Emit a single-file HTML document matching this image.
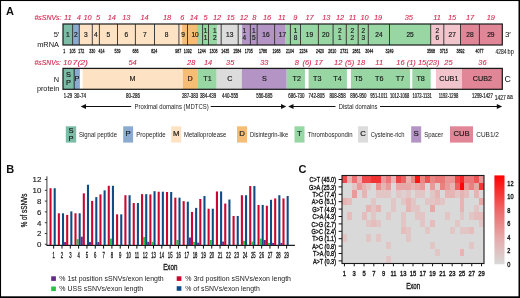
<!DOCTYPE html>
<html><head><meta charset="utf-8"><style>
html,body{margin:0;padding:0;background:#fff;}
svg{display:block;font-family:"Liberation Sans", sans-serif;will-change:transform;}
</style></head><body>
<svg width="520" height="298" viewBox="0 0 520 298">
<rect x="0" y="0" width="520" height="298" fill="#fff"/>
<text x="6.00" y="14.80" font-size="11" text-anchor="start" fill="#111" font-weight="bold">A</text>
<text x="34.50" y="20.10" font-size="7" text-anchor="start" fill="#d42a50" stroke="#d42a50" stroke-width="0.12" font-style="italic" textLength="27.00" lengthAdjust="spacingAndGlyphs">#sSNVs:</text>
<text x="67.80" y="20.40" font-size="7.4" text-anchor="middle" fill="#d42a50" stroke="#d42a50" stroke-width="0.12" font-style="italic">11</text>
<text x="78.75" y="20.40" font-size="7.4" text-anchor="middle" fill="#d42a50" stroke="#d42a50" stroke-width="0.12" font-style="italic">4</text>
<text x="87.50" y="20.40" font-size="7.4" text-anchor="middle" fill="#d42a50" stroke="#d42a50" stroke-width="0.12" font-style="italic">10</text>
<text x="98.00" y="20.40" font-size="7.4" text-anchor="middle" fill="#d42a50" stroke="#d42a50" stroke-width="0.12" font-style="italic">5</text>
<text x="111.75" y="20.40" font-size="7.4" text-anchor="middle" fill="#d42a50" stroke="#d42a50" stroke-width="0.12" font-style="italic">14</text>
<text x="126.25" y="20.40" font-size="7.4" text-anchor="middle" fill="#d42a50" stroke="#d42a50" stroke-width="0.12" font-style="italic">13</text>
<text x="144.50" y="20.40" font-size="7.4" text-anchor="middle" fill="#d42a50" stroke="#d42a50" stroke-width="0.12" font-style="italic">14</text>
<text x="167.00" y="20.40" font-size="7.4" text-anchor="middle" fill="#d42a50" stroke="#d42a50" stroke-width="0.12" font-style="italic">18</text>
<text x="182.30" y="20.40" font-size="7.4" text-anchor="middle" fill="#d42a50" stroke="#d42a50" stroke-width="0.12" font-style="italic">6</text>
<text x="193.75" y="20.40" font-size="7.4" text-anchor="middle" fill="#d42a50" stroke="#d42a50" stroke-width="0.12" font-style="italic">14</text>
<text x="205.50" y="20.40" font-size="7.4" text-anchor="middle" fill="#d42a50" stroke="#d42a50" stroke-width="0.12" font-style="italic">5</text>
<text x="217.00" y="20.40" font-size="7.4" text-anchor="middle" fill="#d42a50" stroke="#d42a50" stroke-width="0.12" font-style="italic">12</text>
<text x="230.50" y="20.40" font-size="7.4" text-anchor="middle" fill="#d42a50" stroke="#d42a50" stroke-width="0.12" font-style="italic">15</text>
<text x="243.75" y="20.40" font-size="7.4" text-anchor="middle" fill="#d42a50" stroke="#d42a50" stroke-width="0.12" font-style="italic">12</text>
<text x="254.25" y="20.40" font-size="7.4" text-anchor="middle" fill="#d42a50" stroke="#d42a50" stroke-width="0.12" font-style="italic">8</text>
<text x="267.00" y="20.40" font-size="7.4" text-anchor="middle" fill="#d42a50" stroke="#d42a50" stroke-width="0.12" font-style="italic">16</text>
<text x="281.75" y="20.40" font-size="7.4" text-anchor="middle" fill="#d42a50" stroke="#d42a50" stroke-width="0.12" font-style="italic">11</text>
<text x="295.30" y="20.40" font-size="7.4" text-anchor="middle" fill="#d42a50" stroke="#d42a50" stroke-width="0.12" font-style="italic">9</text>
<text x="309.50" y="20.40" font-size="7.4" text-anchor="middle" fill="#d42a50" stroke="#d42a50" stroke-width="0.12" font-style="italic">17</text>
<text x="326.25" y="20.40" font-size="7.4" text-anchor="middle" fill="#d42a50" stroke="#d42a50" stroke-width="0.12" font-style="italic">13</text>
<text x="340.00" y="20.40" font-size="7.4" text-anchor="middle" fill="#d42a50" stroke="#d42a50" stroke-width="0.12" font-style="italic">12</text>
<text x="352.50" y="20.40" font-size="7.4" text-anchor="middle" fill="#d42a50" stroke="#d42a50" stroke-width="0.12" font-style="italic">11</text>
<text x="364.50" y="20.40" font-size="7.4" text-anchor="middle" fill="#d42a50" stroke="#d42a50" stroke-width="0.12" font-style="italic">10</text>
<text x="378.00" y="20.40" font-size="7.4" text-anchor="middle" fill="#d42a50" stroke="#d42a50" stroke-width="0.12" font-style="italic">19</text>
<text x="408.75" y="20.40" font-size="7.4" text-anchor="middle" fill="#d42a50" stroke="#d42a50" stroke-width="0.12" font-style="italic">35</text>
<text x="437.00" y="20.40" font-size="7.4" text-anchor="middle" fill="#d42a50" stroke="#d42a50" stroke-width="0.12" font-style="italic">11</text>
<text x="452.00" y="20.40" font-size="7.4" text-anchor="middle" fill="#d42a50" stroke="#d42a50" stroke-width="0.12" font-style="italic">15</text>
<text x="470.00" y="20.40" font-size="7.4" text-anchor="middle" fill="#d42a50" stroke="#d42a50" stroke-width="0.12" font-style="italic">17</text>
<text x="490.75" y="20.40" font-size="7.4" text-anchor="middle" fill="#d42a50" stroke="#d42a50" stroke-width="0.12" font-style="italic">19</text>
<rect x="63.00" y="24.00" width="9.60" height="21.00" fill="#7cbca6"/>
<rect x="72.60" y="24.00" width="6.70" height="21.00" fill="#8aabcf"/>
<rect x="79.30" y="24.00" width="13.00" height="21.00" fill="#fde3c3"/>
<rect x="92.30" y="24.00" width="7.10" height="21.00" fill="#fde3c3"/>
<rect x="99.40" y="24.00" width="18.10" height="21.00" fill="#fde3c3"/>
<rect x="117.50" y="24.00" width="17.90" height="21.00" fill="#fde3c3"/>
<rect x="135.40" y="24.00" width="19.10" height="21.00" fill="#fde3c3"/>
<rect x="154.50" y="24.00" width="24.10" height="21.00" fill="#fde3c3"/>
<rect x="202.60" y="24.00" width="5.90" height="21.00" fill="#98d6a4"/>
<rect x="221.20" y="24.00" width="17.00" height="21.00" fill="#dcdcdc"/>
<rect x="250.40" y="24.00" width="6.80" height="21.00" fill="#b394c4"/>
<rect x="257.20" y="24.00" width="17.40" height="21.00" fill="#b394c4"/>
<rect x="290.40" y="24.00" width="10.10" height="21.00" fill="#98d6a4"/>
<rect x="300.50" y="24.00" width="17.90" height="21.00" fill="#98d6a4"/>
<rect x="318.40" y="24.00" width="14.70" height="21.00" fill="#98d6a4"/>
<rect x="333.10" y="24.00" width="13.20" height="21.00" fill="#98d6a4"/>
<rect x="346.30" y="24.00" width="11.90" height="21.00" fill="#98d6a4"/>
<rect x="358.20" y="24.00" width="10.10" height="21.00" fill="#98d6a4"/>
<rect x="368.30" y="24.00" width="21.20" height="21.00" fill="#98d6a4"/>
<rect x="389.50" y="24.00" width="41.20" height="21.00" fill="#98d6a4"/>
<rect x="430.70" y="24.00" width="13.10" height="21.00" fill="#f2c5cd"/>
<rect x="443.80" y="24.00" width="16.70" height="21.00" fill="#f2c5cd"/>
<rect x="460.50" y="24.00" width="18.90" height="21.00" fill="#e08696"/>
<rect x="479.40" y="24.00" width="22.90" height="21.00" fill="#e08696"/>
<rect x="178.60" y="24.00" width="3.50" height="21.00" fill="#fde3c3"/>
<rect x="182.10" y="24.00" width="5.40" height="21.00" fill="#f8bd74"/>
<rect x="187.50" y="24.00" width="9.50" height="21.00" fill="#f8bd74"/>
<rect x="197.00" y="24.00" width="5.60" height="21.00" fill="#98d6a4"/>
<rect x="208.50" y="24.00" width="8.50" height="21.00" fill="#98d6a4"/>
<rect x="217.00" y="24.00" width="4.20" height="21.00" fill="#dcdcdc"/>
<rect x="238.20" y="24.00" width="3.80" height="21.00" fill="#dcdcdc"/>
<rect x="242.00" y="24.00" width="8.40" height="21.00" fill="#b394c4"/>
<rect x="274.60" y="24.00" width="11.10" height="21.00" fill="#b394c4"/>
<rect x="285.70" y="24.00" width="4.70" height="21.00" fill="#98d6a4"/>
<line x1="72.60" y1="24.00" x2="72.60" y2="45.00" stroke="#2a2a2a" stroke-width="0.9"/>
<line x1="79.30" y1="24.00" x2="79.30" y2="45.00" stroke="#2a2a2a" stroke-width="0.9"/>
<line x1="92.30" y1="24.00" x2="92.30" y2="45.00" stroke="#2a2a2a" stroke-width="0.9"/>
<line x1="99.40" y1="24.00" x2="99.40" y2="45.00" stroke="#2a2a2a" stroke-width="0.9"/>
<line x1="117.50" y1="24.00" x2="117.50" y2="45.00" stroke="#2a2a2a" stroke-width="0.9"/>
<line x1="135.40" y1="24.00" x2="135.40" y2="45.00" stroke="#2a2a2a" stroke-width="0.9"/>
<line x1="154.50" y1="24.00" x2="154.50" y2="45.00" stroke="#2a2a2a" stroke-width="0.9"/>
<line x1="178.60" y1="24.00" x2="178.60" y2="45.00" stroke="#2a2a2a" stroke-width="0.9"/>
<line x1="187.50" y1="24.00" x2="187.50" y2="45.00" stroke="#2a2a2a" stroke-width="0.9"/>
<line x1="202.60" y1="24.00" x2="202.60" y2="45.00" stroke="#2a2a2a" stroke-width="0.9"/>
<line x1="208.50" y1="24.00" x2="208.50" y2="45.00" stroke="#2a2a2a" stroke-width="0.9"/>
<line x1="221.20" y1="24.00" x2="221.20" y2="45.00" stroke="#2a2a2a" stroke-width="0.9"/>
<line x1="238.20" y1="24.00" x2="238.20" y2="45.00" stroke="#2a2a2a" stroke-width="0.9"/>
<line x1="250.40" y1="24.00" x2="250.40" y2="45.00" stroke="#2a2a2a" stroke-width="0.9"/>
<line x1="257.20" y1="24.00" x2="257.20" y2="45.00" stroke="#2a2a2a" stroke-width="0.9"/>
<line x1="274.60" y1="24.00" x2="274.60" y2="45.00" stroke="#2a2a2a" stroke-width="0.9"/>
<line x1="290.40" y1="24.00" x2="290.40" y2="45.00" stroke="#2a2a2a" stroke-width="0.9"/>
<line x1="300.50" y1="24.00" x2="300.50" y2="45.00" stroke="#2a2a2a" stroke-width="0.9"/>
<line x1="318.40" y1="24.00" x2="318.40" y2="45.00" stroke="#2a2a2a" stroke-width="0.9"/>
<line x1="333.10" y1="24.00" x2="333.10" y2="45.00" stroke="#2a2a2a" stroke-width="0.9"/>
<line x1="346.30" y1="24.00" x2="346.30" y2="45.00" stroke="#2a2a2a" stroke-width="0.9"/>
<line x1="358.20" y1="24.00" x2="358.20" y2="45.00" stroke="#2a2a2a" stroke-width="0.9"/>
<line x1="368.30" y1="24.00" x2="368.30" y2="45.00" stroke="#2a2a2a" stroke-width="0.9"/>
<line x1="389.50" y1="24.00" x2="389.50" y2="45.00" stroke="#2a2a2a" stroke-width="0.9"/>
<line x1="430.70" y1="24.00" x2="430.70" y2="45.00" stroke="#2a2a2a" stroke-width="0.9"/>
<line x1="443.80" y1="24.00" x2="443.80" y2="45.00" stroke="#2a2a2a" stroke-width="0.9"/>
<line x1="460.50" y1="24.00" x2="460.50" y2="45.00" stroke="#2a2a2a" stroke-width="0.9"/>
<line x1="479.40" y1="24.00" x2="479.40" y2="45.00" stroke="#2a2a2a" stroke-width="0.9"/>
<line x1="178.90" y1="24.00" x2="178.90" y2="45.00" stroke="#9a8c7c" stroke-width="1.6"/>
<rect x="63.00" y="24.00" width="439.30" height="21.00" fill="none" stroke="#1a1a1a" stroke-width="1.2"/>
<text x="67.80" y="37.00" font-size="6.6" text-anchor="middle" fill="#222" stroke="#222" stroke-width="0.2">1</text>
<text x="75.95" y="37.00" font-size="6.6" text-anchor="middle" fill="#222" stroke="#222" stroke-width="0.2">2</text>
<text x="85.80" y="37.00" font-size="6.6" text-anchor="middle" fill="#222" stroke="#222" stroke-width="0.2">3</text>
<text x="95.85" y="37.00" font-size="6.6" text-anchor="middle" fill="#222" stroke="#222" stroke-width="0.2">4</text>
<text x="108.45" y="37.00" font-size="6.6" text-anchor="middle" fill="#222" stroke="#222" stroke-width="0.2">5</text>
<text x="126.45" y="37.00" font-size="6.6" text-anchor="middle" fill="#222" stroke="#222" stroke-width="0.2">6</text>
<text x="144.95" y="37.00" font-size="6.6" text-anchor="middle" fill="#222" stroke="#222" stroke-width="0.2">7</text>
<text x="166.55" y="37.00" font-size="6.6" text-anchor="middle" fill="#222" stroke="#222" stroke-width="0.2">8</text>
<text x="183.05" y="37.00" font-size="6.6" text-anchor="middle" fill="#222" stroke="#222" stroke-width="0.2">9</text>
<text x="195.05" y="37.00" font-size="6.6" text-anchor="middle" fill="#222" stroke="#222" stroke-width="0.2">10</text>
<text x="205.55" y="33.00" font-size="6.5" text-anchor="middle" fill="#222" stroke="#222" stroke-width="0.2">1</text>
<text x="205.55" y="39.80" font-size="6.5" text-anchor="middle" fill="#222" stroke="#222" stroke-width="0.2">1</text>
<text x="214.85" y="33.00" font-size="6.5" text-anchor="middle" fill="#222" stroke="#222" stroke-width="0.2">1</text>
<text x="214.85" y="39.80" font-size="6.5" text-anchor="middle" fill="#222" stroke="#222" stroke-width="0.2">2</text>
<text x="229.70" y="37.00" font-size="6.6" text-anchor="middle" fill="#222" stroke="#222" stroke-width="0.2">13</text>
<text x="244.30" y="33.00" font-size="6.5" text-anchor="middle" fill="#222" stroke="#222" stroke-width="0.2">1</text>
<text x="244.30" y="39.80" font-size="6.5" text-anchor="middle" fill="#222" stroke="#222" stroke-width="0.2">4</text>
<text x="253.80" y="33.00" font-size="6.5" text-anchor="middle" fill="#222" stroke="#222" stroke-width="0.2">1</text>
<text x="253.80" y="39.80" font-size="6.5" text-anchor="middle" fill="#222" stroke="#222" stroke-width="0.2">5</text>
<text x="265.90" y="37.00" font-size="6.6" text-anchor="middle" fill="#222" stroke="#222" stroke-width="0.2">16</text>
<text x="282.50" y="37.00" font-size="6.6" text-anchor="middle" fill="#222" stroke="#222" stroke-width="0.2">17</text>
<text x="295.45" y="33.00" font-size="6.5" text-anchor="middle" fill="#222" stroke="#222" stroke-width="0.2">1</text>
<text x="295.45" y="39.80" font-size="6.5" text-anchor="middle" fill="#222" stroke="#222" stroke-width="0.2">8</text>
<text x="309.45" y="37.00" font-size="6.6" text-anchor="middle" fill="#222" stroke="#222" stroke-width="0.2">19</text>
<text x="325.75" y="37.00" font-size="6.6" text-anchor="middle" fill="#222" stroke="#222" stroke-width="0.2">20</text>
<text x="339.70" y="33.00" font-size="6.5" text-anchor="middle" fill="#222" stroke="#222" stroke-width="0.2">2</text>
<text x="339.70" y="39.80" font-size="6.5" text-anchor="middle" fill="#222" stroke="#222" stroke-width="0.2">1</text>
<text x="352.25" y="33.00" font-size="6.5" text-anchor="middle" fill="#222" stroke="#222" stroke-width="0.2">2</text>
<text x="352.25" y="39.80" font-size="6.5" text-anchor="middle" fill="#222" stroke="#222" stroke-width="0.2">2</text>
<text x="363.25" y="33.00" font-size="6.5" text-anchor="middle" fill="#222" stroke="#222" stroke-width="0.2">2</text>
<text x="363.25" y="39.80" font-size="6.5" text-anchor="middle" fill="#222" stroke="#222" stroke-width="0.2">3</text>
<text x="378.90" y="37.00" font-size="6.6" text-anchor="middle" fill="#222" stroke="#222" stroke-width="0.2">24</text>
<text x="410.10" y="37.00" font-size="6.6" text-anchor="middle" fill="#222" stroke="#222" stroke-width="0.2">25</text>
<text x="437.25" y="33.00" font-size="6.5" text-anchor="middle" fill="#222" stroke="#222" stroke-width="0.2">2</text>
<text x="437.25" y="39.80" font-size="6.5" text-anchor="middle" fill="#222" stroke="#222" stroke-width="0.2">6</text>
<text x="452.15" y="37.00" font-size="6.6" text-anchor="middle" fill="#222" stroke="#222" stroke-width="0.2">27</text>
<text x="469.95" y="37.00" font-size="6.6" text-anchor="middle" fill="#222" stroke="#222" stroke-width="0.2">28</text>
<text x="490.85" y="37.00" font-size="6.6" text-anchor="middle" fill="#222" stroke="#222" stroke-width="0.2">29</text>
<text x="59.30" y="37.20" font-size="7.6" text-anchor="end" fill="#111">5′</text>
<text x="59.00" y="47.00" font-size="7.3" text-anchor="end" fill="#111" textLength="21.80" lengthAdjust="spacingAndGlyphs">mRNA</text>
<text x="504.90" y="37.30" font-size="8.0" text-anchor="start" fill="#111">3′</text>
<text transform="translate(64.20,53.30) scale(0.58,1)" font-size="6.2" text-anchor="middle" fill="#1a1a1a" stroke="#1a1a1a" stroke-width="0.3">1</text>
<text transform="translate(72.50,53.30) scale(0.58,1)" font-size="6.2" text-anchor="middle" fill="#1a1a1a" stroke="#1a1a1a" stroke-width="0.3">105</text>
<text transform="translate(81.20,53.30) scale(0.58,1)" font-size="6.2" text-anchor="middle" fill="#1a1a1a" stroke="#1a1a1a" stroke-width="0.3">172</text>
<text transform="translate(92.20,53.30) scale(0.58,1)" font-size="6.2" text-anchor="middle" fill="#1a1a1a" stroke="#1a1a1a" stroke-width="0.3">330</text>
<text transform="translate(101.50,53.30) scale(0.58,1)" font-size="6.2" text-anchor="middle" fill="#1a1a1a" stroke="#1a1a1a" stroke-width="0.3">414</text>
<text transform="translate(117.50,53.30) scale(0.58,1)" font-size="6.2" text-anchor="middle" fill="#1a1a1a" stroke="#1a1a1a" stroke-width="0.3">539</text>
<text transform="translate(135.40,53.30) scale(0.58,1)" font-size="6.2" text-anchor="middle" fill="#1a1a1a" stroke="#1a1a1a" stroke-width="0.3">686</text>
<text transform="translate(154.30,53.30) scale(0.58,1)" font-size="6.2" text-anchor="middle" fill="#1a1a1a" stroke="#1a1a1a" stroke-width="0.3">824</text>
<text transform="translate(178.30,53.30) scale(0.58,1)" font-size="6.2" text-anchor="middle" fill="#1a1a1a" stroke="#1a1a1a" stroke-width="0.3">987</text>
<text transform="translate(187.70,53.30) scale(0.58,1)" font-size="6.2" text-anchor="middle" fill="#1a1a1a" stroke="#1a1a1a" stroke-width="0.3">1092</text>
<text transform="translate(201.80,53.30) scale(0.58,1)" font-size="6.2" text-anchor="middle" fill="#1a1a1a" stroke="#1a1a1a" stroke-width="0.3">1244</text>
<text transform="translate(213.50,53.30) scale(0.58,1)" font-size="6.2" text-anchor="middle" fill="#1a1a1a" stroke="#1a1a1a" stroke-width="0.3">1308</text>
<text transform="translate(225.20,53.30) scale(0.58,1)" font-size="6.2" text-anchor="middle" fill="#1a1a1a" stroke="#1a1a1a" stroke-width="0.3">1435</text>
<text transform="translate(237.30,53.30) scale(0.58,1)" font-size="6.2" text-anchor="middle" fill="#1a1a1a" stroke="#1a1a1a" stroke-width="0.3">1584</text>
<text transform="translate(248.70,53.30) scale(0.58,1)" font-size="6.2" text-anchor="middle" fill="#1a1a1a" stroke="#1a1a1a" stroke-width="0.3">1705</text>
<text transform="translate(263.00,53.30) scale(0.58,1)" font-size="6.2" text-anchor="middle" fill="#1a1a1a" stroke="#1a1a1a" stroke-width="0.3">1786</text>
<text transform="translate(276.50,53.30) scale(0.58,1)" font-size="6.2" text-anchor="middle" fill="#1a1a1a" stroke="#1a1a1a" stroke-width="0.3">1968</text>
<text transform="translate(290.00,53.30) scale(0.58,1)" font-size="6.2" text-anchor="middle" fill="#1a1a1a" stroke="#1a1a1a" stroke-width="0.3">2104</text>
<text transform="translate(303.50,53.30) scale(0.58,1)" font-size="6.2" text-anchor="middle" fill="#1a1a1a" stroke="#1a1a1a" stroke-width="0.3">2234</text>
<text transform="translate(320.10,53.30) scale(0.58,1)" font-size="6.2" text-anchor="middle" fill="#1a1a1a" stroke="#1a1a1a" stroke-width="0.3">2420</text>
<text transform="translate(332.20,53.30) scale(0.58,1)" font-size="6.2" text-anchor="middle" fill="#1a1a1a" stroke="#1a1a1a" stroke-width="0.3">2610</text>
<text transform="translate(344.30,53.30) scale(0.58,1)" font-size="6.2" text-anchor="middle" fill="#1a1a1a" stroke="#1a1a1a" stroke-width="0.3">2731</text>
<text transform="translate(356.40,53.30) scale(0.58,1)" font-size="6.2" text-anchor="middle" fill="#1a1a1a" stroke="#1a1a1a" stroke-width="0.3">2861</text>
<text transform="translate(369.30,53.30) scale(0.58,1)" font-size="6.2" text-anchor="middle" fill="#1a1a1a" stroke="#1a1a1a" stroke-width="0.3">3044</text>
<text transform="translate(389.50,53.30) scale(0.58,1)" font-size="6.2" text-anchor="middle" fill="#1a1a1a" stroke="#1a1a1a" stroke-width="0.3">3249</text>
<text transform="translate(431.00,53.30) scale(0.58,1)" font-size="6.2" text-anchor="middle" fill="#1a1a1a" stroke="#1a1a1a" stroke-width="0.3">3568</text>
<text transform="translate(443.80,53.30) scale(0.58,1)" font-size="6.2" text-anchor="middle" fill="#1a1a1a" stroke="#1a1a1a" stroke-width="0.3">3715</text>
<text transform="translate(460.50,53.30) scale(0.58,1)" font-size="6.2" text-anchor="middle" fill="#1a1a1a" stroke="#1a1a1a" stroke-width="0.3">3892</text>
<text transform="translate(479.60,53.30) scale(0.58,1)" font-size="6.2" text-anchor="middle" fill="#1a1a1a" stroke="#1a1a1a" stroke-width="0.3">4077</text>
<text transform="translate(495.50,53.60) scale(0.75,1)" font-size="6.6" text-anchor="start" fill="#222" stroke="#222" stroke-width="0.12">4284</text>
<text transform="translate(507.60,53.60) scale(0.8,1)" font-size="7" text-anchor="start" fill="#222" stroke="#222" stroke-width="0.1">bp</text>
<text x="34.50" y="64.50" font-size="7" text-anchor="start" fill="#d42a50" stroke="#d42a50" stroke-width="0.12" font-style="italic" textLength="26.50" lengthAdjust="spacingAndGlyphs">#sSNVs:</text>
<text x="67.40" y="64.70" font-size="7.4" text-anchor="middle" fill="#d42a50" stroke="#d42a50" stroke-width="0.12" font-style="italic">10</text>
<text x="80.30" y="64.70" font-size="7.4" text-anchor="middle" fill="#d42a50" stroke="#d42a50" stroke-width="0.12" font-style="italic" textLength="15.40" lengthAdjust="spacingAndGlyphs">7(2)</text>
<text x="132.50" y="64.70" font-size="7.4" text-anchor="middle" fill="#d42a50" stroke="#d42a50" stroke-width="0.12" font-style="italic">54</text>
<text x="191.20" y="64.70" font-size="7.4" text-anchor="middle" fill="#d42a50" stroke="#d42a50" stroke-width="0.12" font-style="italic">28</text>
<text x="208.00" y="64.70" font-size="7.4" text-anchor="middle" fill="#d42a50" stroke="#d42a50" stroke-width="0.12" font-style="italic">14</text>
<text x="230.20" y="64.70" font-size="7.4" text-anchor="middle" fill="#d42a50" stroke="#d42a50" stroke-width="0.12" font-style="italic">35</text>
<text x="264.30" y="64.70" font-size="7.4" text-anchor="middle" fill="#d42a50" stroke="#d42a50" stroke-width="0.12" font-style="italic">33</text>
<text x="296.80" y="64.70" font-size="7.4" text-anchor="middle" fill="#d42a50" stroke="#d42a50" stroke-width="0.12" font-style="italic">8</text>
<text x="307.00" y="64.70" font-size="7.4" text-anchor="middle" fill="#d42a50" stroke="#d42a50" stroke-width="0.12" font-style="italic">(6)</text>
<text x="318.60" y="64.70" font-size="7.4" text-anchor="middle" fill="#d42a50" stroke="#d42a50" stroke-width="0.12" font-style="italic">17</text>
<text x="338.20" y="64.70" font-size="7.4" text-anchor="middle" fill="#d42a50" stroke="#d42a50" stroke-width="0.12" font-style="italic">12</text>
<text x="349.60" y="64.70" font-size="7.4" text-anchor="middle" fill="#d42a50" stroke="#d42a50" stroke-width="0.12" font-style="italic">(5)</text>
<text x="360.90" y="64.70" font-size="7.4" text-anchor="middle" fill="#d42a50" stroke="#d42a50" stroke-width="0.12" font-style="italic">18</text>
<text x="379.20" y="64.70" font-size="7.4" text-anchor="middle" fill="#d42a50" stroke="#d42a50" stroke-width="0.12" font-style="italic">11</text>
<text x="400.40" y="64.70" font-size="7.4" text-anchor="middle" fill="#d42a50" stroke="#d42a50" stroke-width="0.12" font-style="italic">16</text>
<text x="411.30" y="64.70" font-size="7.4" text-anchor="middle" fill="#d42a50" stroke="#d42a50" stroke-width="0.12" font-style="italic">(1)</text>
<text x="428.70" y="64.70" font-size="7.4" text-anchor="middle" fill="#d42a50" stroke="#d42a50" stroke-width="0.12" font-style="italic">15(23)</text>
<text x="448.40" y="64.70" font-size="7.4" text-anchor="middle" fill="#d42a50" stroke="#d42a50" stroke-width="0.12" font-style="italic">25</text>
<text x="482.40" y="64.70" font-size="7.4" text-anchor="middle" fill="#d42a50" stroke="#d42a50" stroke-width="0.12" font-style="italic">36</text>
<rect x="63.00" y="68.40" width="11.00" height="20.90" fill="#7cbca6"/>
<rect x="74.00" y="68.40" width="5.90" height="20.90" fill="#8aabcf"/>
<rect x="82.60" y="68.40" width="100.10" height="20.90" fill="#fde3c3"/>
<rect x="182.70" y="68.40" width="14.50" height="20.90" fill="#f8bd74"/>
<rect x="197.20" y="68.40" width="19.50" height="20.90" fill="#98d6a4"/>
<rect x="216.70" y="68.40" width="25.10" height="20.90" fill="#dcdcdc"/>
<rect x="241.80" y="68.40" width="44.90" height="20.90" fill="#b394c4"/>
<rect x="286.70" y="68.40" width="18.20" height="20.90" fill="#98d6a4"/>
<rect x="308.60" y="68.40" width="38.30" height="20.90" fill="#98d6a4"/>
<rect x="350.90" y="68.40" width="59.20" height="20.90" fill="#98d6a4"/>
<rect x="412.30" y="68.40" width="18.40" height="20.90" fill="#98d6a4"/>
<rect x="436.00" y="68.40" width="26.00" height="20.90" fill="#f2c5cd"/>
<rect x="462.00" y="68.40" width="40.30" height="20.90" fill="#e08696"/>
<line x1="74.20" y1="68.40" x2="74.20" y2="89.30" stroke="#222" stroke-width="0.9"/>
<rect x="63" y="68.4" width="439.30" height="20.90" fill="none" stroke="#1a1a1a" stroke-width="1.25"/>
<text x="68.50" y="77.00" font-size="7.4" text-anchor="middle" fill="#1a1a1a" stroke="#1a1a1a" stroke-width="0.2">S</text>
<text x="68.50" y="85.30" font-size="7.4" text-anchor="middle" fill="#1a1a1a" stroke="#1a1a1a" stroke-width="0.2">P</text>
<text x="77.00" y="80.80" font-size="7.4" text-anchor="middle" fill="#1a1a1a" stroke="#1a1a1a" stroke-width="0.2">P</text>
<text x="132.50" y="80.80" font-size="7.2" text-anchor="middle" fill="#161616" stroke="#161616" stroke-width="0.15">M</text>
<text x="190.00" y="80.80" font-size="7.2" text-anchor="middle" fill="#161616" stroke="#161616" stroke-width="0.15">D</text>
<text x="207.50" y="80.80" font-size="7.2" text-anchor="middle" fill="#161616" stroke="#161616" stroke-width="0.15">T1</text>
<text x="229.80" y="80.80" font-size="7.2" text-anchor="middle" fill="#161616" stroke="#161616" stroke-width="0.15">C</text>
<text x="264.30" y="80.80" font-size="7.2" text-anchor="middle" fill="#161616" stroke="#161616" stroke-width="0.15">S</text>
<text x="296.80" y="80.80" font-size="7.2" text-anchor="middle" fill="#161616" stroke="#161616" stroke-width="0.15">T2</text>
<text x="317.30" y="80.80" font-size="7.2" text-anchor="middle" fill="#161616" stroke="#161616" stroke-width="0.15">T3</text>
<text x="337.50" y="80.80" font-size="7.2" text-anchor="middle" fill="#161616" stroke="#161616" stroke-width="0.15">T4</text>
<text x="358.40" y="80.80" font-size="7.2" text-anchor="middle" fill="#161616" stroke="#161616" stroke-width="0.15">T5</text>
<text x="379.20" y="80.80" font-size="7.2" text-anchor="middle" fill="#161616" stroke="#161616" stroke-width="0.15">T6</text>
<text x="400.00" y="80.80" font-size="7.2" text-anchor="middle" fill="#161616" stroke="#161616" stroke-width="0.15">T7</text>
<text x="420.60" y="80.80" font-size="7.2" text-anchor="middle" fill="#161616" stroke="#161616" stroke-width="0.15">T8</text>
<text x="448.80" y="80.80" font-size="7.2" text-anchor="middle" fill="#161616" stroke="#161616" stroke-width="0.15">CUB1</text>
<text x="482.40" y="80.80" font-size="7.2" text-anchor="middle" fill="#161616" stroke="#161616" stroke-width="0.15">CUB2</text>
<text x="59.20" y="82.00" font-size="7.4" text-anchor="end" fill="#111">N</text>
<text x="59.20" y="91.00" font-size="7.5" text-anchor="end" fill="#111" textLength="22.30" lengthAdjust="spacingAndGlyphs">protein</text>
<text x="504.60" y="82.20" font-size="8.8" text-anchor="start" fill="#111">C</text>
<text x="68.00" y="97.60" font-size="6.6" text-anchor="middle" fill="#1a1a1a" stroke="#1a1a1a" stroke-width="0.22" textLength="8.40" lengthAdjust="spacingAndGlyphs">1-29</text>
<text x="80.20" y="97.60" font-size="6.6" text-anchor="middle" fill="#1a1a1a" stroke="#1a1a1a" stroke-width="0.22" textLength="11.80" lengthAdjust="spacingAndGlyphs">30-74</text>
<text x="133.00" y="97.60" font-size="6.6" text-anchor="middle" fill="#1a1a1a" stroke="#1a1a1a" stroke-width="0.22" textLength="14.00" lengthAdjust="spacingAndGlyphs">80-286</text>
<text x="190.00" y="97.60" font-size="6.6" text-anchor="middle" fill="#1a1a1a" stroke="#1a1a1a" stroke-width="0.22" textLength="16.20" lengthAdjust="spacingAndGlyphs">287-383</text>
<text x="208.00" y="97.60" font-size="6.6" text-anchor="middle" fill="#1a1a1a" stroke="#1a1a1a" stroke-width="0.22" textLength="16.20" lengthAdjust="spacingAndGlyphs">384-439</text>
<text x="230.20" y="97.60" font-size="6.6" text-anchor="middle" fill="#1a1a1a" stroke="#1a1a1a" stroke-width="0.22" textLength="16.20" lengthAdjust="spacingAndGlyphs">440-555</text>
<text x="264.30" y="97.60" font-size="6.6" text-anchor="middle" fill="#1a1a1a" stroke="#1a1a1a" stroke-width="0.22" textLength="16.20" lengthAdjust="spacingAndGlyphs">556-685</text>
<text x="296.40" y="97.60" font-size="6.6" text-anchor="middle" fill="#1a1a1a" stroke="#1a1a1a" stroke-width="0.22" textLength="16.30" lengthAdjust="spacingAndGlyphs">686-730</text>
<text x="316.60" y="97.60" font-size="6.6" text-anchor="middle" fill="#1a1a1a" stroke="#1a1a1a" stroke-width="0.22" textLength="16.20" lengthAdjust="spacingAndGlyphs">742-805</text>
<text x="337.50" y="97.60" font-size="6.6" text-anchor="middle" fill="#1a1a1a" stroke="#1a1a1a" stroke-width="0.22" textLength="16.20" lengthAdjust="spacingAndGlyphs">808-858</text>
<text x="358.40" y="97.60" font-size="6.6" text-anchor="middle" fill="#1a1a1a" stroke="#1a1a1a" stroke-width="0.22" textLength="16.20" lengthAdjust="spacingAndGlyphs">896-950</text>
<text x="378.90" y="97.60" font-size="6.6" text-anchor="middle" fill="#1a1a1a" stroke="#1a1a1a" stroke-width="0.22" textLength="17.30" lengthAdjust="spacingAndGlyphs">951-1011</text>
<text x="399.60" y="97.60" font-size="6.6" text-anchor="middle" fill="#1a1a1a" stroke="#1a1a1a" stroke-width="0.22" textLength="19.40" lengthAdjust="spacingAndGlyphs">1012-1068</text>
<text x="422.10" y="97.60" font-size="6.6" text-anchor="middle" fill="#1a1a1a" stroke="#1a1a1a" stroke-width="0.22" textLength="19.40" lengthAdjust="spacingAndGlyphs">1072-1131</text>
<text x="448.50" y="97.60" font-size="6.6" text-anchor="middle" fill="#1a1a1a" stroke="#1a1a1a" stroke-width="0.22" textLength="19.60" lengthAdjust="spacingAndGlyphs">1192-1298</text>
<text x="482.50" y="97.60" font-size="6.6" text-anchor="middle" fill="#1a1a1a" stroke="#1a1a1a" stroke-width="0.22" textLength="21.00" lengthAdjust="spacingAndGlyphs">1299-1427</text>
<text transform="translate(494.80,99.50) scale(0.62,1)" font-size="8" text-anchor="start" fill="#111" stroke="#111" stroke-width="0.15">1427</text>
<text transform="translate(507.10,99.40) scale(0.66,1)" font-size="7.6" text-anchor="start" fill="#111" stroke="#111" stroke-width="0.15">aa</text>
<line x1="83.00" y1="106.50" x2="131.20" y2="106.50" stroke="#111" stroke-width="1.1"/>
<path d="M80.6,106.5 L86,103.9 L86,109.1 Z" fill="#111"/>
<text x="134.50" y="108.80" font-size="7" text-anchor="start" fill="#222" textLength="74.20" lengthAdjust="spacingAndGlyphs">Proximal domains (MDTCS)</text>
<line x1="210.70" y1="106.50" x2="283.50" y2="106.50" stroke="#111" stroke-width="1.1"/>
<path d="M286.3,106.5 L281,103.9 L281,109.1 Z" fill="#111"/>
<line x1="291.00" y1="106.50" x2="335.50" y2="106.50" stroke="#111" stroke-width="1.1"/>
<path d="M288.2,106.5 L293.5,103.9 L293.5,109.1 Z" fill="#111"/>
<text x="338.80" y="108.80" font-size="7" text-anchor="start" fill="#222" textLength="38.70" lengthAdjust="spacingAndGlyphs">Distal domains</text>
<line x1="380.00" y1="106.50" x2="499.50" y2="106.50" stroke="#111" stroke-width="1.1"/>
<path d="M502.2,106.5 L496.8,103.9 L496.8,109.1 Z" fill="#111"/>
<rect x="65.80" y="126.30" width="10.40" height="16.30" fill="#7cbca6"/>
<text x="71.00" y="133.20" font-size="7.5" text-anchor="middle" fill="#1a1a1a" stroke="#1a1a1a" stroke-width="0.2">S</text>
<text x="71.00" y="140.80" font-size="7.5" text-anchor="middle" fill="#1a1a1a" stroke="#1a1a1a" stroke-width="0.2">P</text>
<text x="78.90" y="137.00" font-size="7" text-anchor="start" fill="#222" textLength="38.10" lengthAdjust="spacingAndGlyphs">Signal peptide</text>
<rect x="123.20" y="126.30" width="9.90" height="16.30" fill="#8aabcf"/>
<text x="128.20" y="136.30" font-size="7.8" text-anchor="middle" fill="#1a1a1a" stroke="#1a1a1a" stroke-width="0.2">P</text>
<text x="136.20" y="137.00" font-size="7" text-anchor="start" fill="#222" textLength="29.50" lengthAdjust="spacingAndGlyphs">Propeptide</text>
<rect x="171.20" y="126.30" width="10.00" height="16.30" fill="#fde3c3"/>
<text x="176.20" y="136.30" font-size="7.8" text-anchor="middle" fill="#1a1a1a" stroke="#1a1a1a" stroke-width="0.2">M</text>
<text x="184.00" y="137.00" font-size="7" text-anchor="start" fill="#222" textLength="42.20" lengthAdjust="spacingAndGlyphs">Metalloprotease</text>
<rect x="237.00" y="126.30" width="10.00" height="16.30" fill="#f8bd74"/>
<text x="242.00" y="136.30" font-size="7.8" text-anchor="middle" fill="#1a1a1a" stroke="#1a1a1a" stroke-width="0.2">D</text>
<text x="250.00" y="137.00" font-size="7" text-anchor="start" fill="#222" textLength="38.20" lengthAdjust="spacingAndGlyphs">Disintegrin-like</text>
<rect x="294.50" y="126.30" width="10.00" height="16.30" fill="#98d6a4"/>
<text x="299.50" y="136.30" font-size="7.8" text-anchor="middle" fill="#1a1a1a" stroke="#1a1a1a" stroke-width="0.2">T</text>
<text x="307.50" y="137.00" font-size="7" text-anchor="start" fill="#222" textLength="45.00" lengthAdjust="spacingAndGlyphs">Thrombospondin</text>
<rect x="358.00" y="126.30" width="10.00" height="16.30" fill="#dcdcdc"/>
<text x="363.00" y="136.30" font-size="7.8" text-anchor="middle" fill="#1a1a1a" stroke="#1a1a1a" stroke-width="0.2">C</text>
<text x="370.70" y="137.00" font-size="7" text-anchor="start" fill="#222" textLength="33.80" lengthAdjust="spacingAndGlyphs">Cysteine-rich</text>
<rect x="411.20" y="126.30" width="10.00" height="16.30" fill="#b394c4"/>
<text x="416.20" y="136.30" font-size="7.8" text-anchor="middle" fill="#1a1a1a" stroke="#1a1a1a" stroke-width="0.2">S</text>
<text x="424.20" y="137.00" font-size="7" text-anchor="start" fill="#222" textLength="19.00" lengthAdjust="spacingAndGlyphs">Spacer</text>
<rect x="450.00" y="126.30" width="23.00" height="16.30" fill="#e08696"/>
<text x="461.50" y="136.40" font-size="7.6" text-anchor="middle" fill="#1a1a1a" stroke="#1a1a1a" stroke-width="0.2">CUB</text>
<text x="476.20" y="137.00" font-size="7" text-anchor="start" fill="#222" textLength="22.80" lengthAdjust="spacingAndGlyphs">CUB1/2</text>
<text x="6.20" y="172.50" font-size="11" text-anchor="start" fill="#111" font-weight="bold">B</text>
<line x1="46.90" y1="176.30" x2="46.90" y2="245.40" stroke="#222" stroke-width="0.9"/>
<line x1="46.50" y1="245.40" x2="294.90" y2="245.40" stroke="#1a1a1a" stroke-width="1.2"/>
<line x1="44.80" y1="244.30" x2="46.90" y2="244.30" stroke="#222" stroke-width="0.9"/>
<text x="41.40" y="247.20" font-size="7.9" text-anchor="end" fill="#1a1a1a" stroke="#1a1a1a" stroke-width="0.15">0</text>
<line x1="44.80" y1="233.50" x2="46.90" y2="233.50" stroke="#222" stroke-width="0.9"/>
<text x="41.40" y="236.40" font-size="7.9" text-anchor="end" fill="#1a1a1a" stroke="#1a1a1a" stroke-width="0.15">2</text>
<line x1="44.80" y1="222.70" x2="46.90" y2="222.70" stroke="#222" stroke-width="0.9"/>
<text x="41.40" y="225.60" font-size="7.9" text-anchor="end" fill="#1a1a1a" stroke="#1a1a1a" stroke-width="0.15">4</text>
<line x1="44.80" y1="211.90" x2="46.90" y2="211.90" stroke="#222" stroke-width="0.9"/>
<text x="41.40" y="214.80" font-size="7.9" text-anchor="end" fill="#1a1a1a" stroke="#1a1a1a" stroke-width="0.15">6</text>
<line x1="44.80" y1="201.10" x2="46.90" y2="201.10" stroke="#222" stroke-width="0.9"/>
<text x="41.40" y="204.00" font-size="7.9" text-anchor="end" fill="#1a1a1a" stroke="#1a1a1a" stroke-width="0.15">8</text>
<line x1="44.80" y1="190.30" x2="46.90" y2="190.30" stroke="#222" stroke-width="0.9"/>
<text x="41.40" y="193.20" font-size="7.9" text-anchor="end" fill="#1a1a1a" stroke="#1a1a1a" stroke-width="0.15">10</text>
<line x1="44.80" y1="179.50" x2="46.90" y2="179.50" stroke="#222" stroke-width="0.9"/>
<text x="41.40" y="182.40" font-size="7.9" text-anchor="end" fill="#1a1a1a" stroke="#1a1a1a" stroke-width="0.15">12</text>
<text transform="translate(26.9,210.5) rotate(-90) scale(0.75,1)" font-size="8.4" text-anchor="middle" fill="#1a1a1a" stroke="#1a1a1a" stroke-width="0.3">% of sSNVs</text>
<rect x="49.50" y="188.21" width="2.08" height="56.79" fill="#cc0630"/>
<rect x="53.66" y="188.21" width="2.08" height="56.79" fill="#104b86"/>
<line x1="53.66" y1="245.50" x2="53.66" y2="248.60" stroke="#111" stroke-width="1.0"/>
<text transform="translate(53.66,257.50) scale(0.5,1)" font-size="8.4" text-anchor="middle" fill="#1a1a1a" stroke="#1a1a1a" stroke-width="0.35">1</text>
<rect x="57.82" y="213.28" width="2.08" height="31.72" fill="#cc0630"/>
<rect x="61.98" y="213.28" width="2.08" height="31.72" fill="#104b86"/>
<rect x="64.06" y="242.11" width="2.08" height="2.89" fill="#632a86"/>
<line x1="61.98" y1="245.50" x2="61.98" y2="248.60" stroke="#111" stroke-width="1.0"/>
<text transform="translate(61.98,257.50) scale(0.5,1)" font-size="8.4" text-anchor="middle" fill="#1a1a1a" stroke="#1a1a1a" stroke-width="0.35">2</text>
<rect x="66.14" y="214.89" width="2.08" height="30.11" fill="#cc0630"/>
<rect x="70.30" y="211.39" width="2.08" height="33.61" fill="#104b86"/>
<line x1="70.30" y1="245.50" x2="70.30" y2="248.60" stroke="#111" stroke-width="1.0"/>
<text transform="translate(70.30,257.50) scale(0.5,1)" font-size="8.4" text-anchor="middle" fill="#1a1a1a" stroke="#1a1a1a" stroke-width="0.35">3</text>
<rect x="74.46" y="213.28" width="2.08" height="31.72" fill="#cc0630"/>
<rect x="76.54" y="239.15" width="2.08" height="5.85" fill="#2ac046"/>
<rect x="78.62" y="213.28" width="2.08" height="31.72" fill="#104b86"/>
<rect x="80.70" y="236.72" width="2.08" height="8.28" fill="#632a86"/>
<line x1="78.62" y1="245.50" x2="78.62" y2="248.60" stroke="#111" stroke-width="1.0"/>
<text transform="translate(78.62,257.50) scale(0.5,1)" font-size="8.4" text-anchor="middle" fill="#1a1a1a" stroke="#1a1a1a" stroke-width="0.35">4</text>
<rect x="82.78" y="193.33" width="2.08" height="51.67" fill="#cc0630"/>
<rect x="86.94" y="184.71" width="2.08" height="60.29" fill="#104b86"/>
<rect x="89.02" y="242.11" width="2.08" height="2.89" fill="#632a86"/>
<line x1="86.94" y1="245.50" x2="86.94" y2="248.60" stroke="#111" stroke-width="1.0"/>
<text transform="translate(86.94,257.50) scale(0.5,1)" font-size="8.4" text-anchor="middle" fill="#1a1a1a" stroke="#1a1a1a" stroke-width="0.35">5</text>
<rect x="91.10" y="200.88" width="2.08" height="44.12" fill="#cc0630"/>
<rect x="95.26" y="197.11" width="2.08" height="47.89" fill="#104b86"/>
<rect x="97.34" y="242.11" width="2.08" height="2.89" fill="#632a86"/>
<line x1="95.26" y1="245.50" x2="95.26" y2="248.60" stroke="#111" stroke-width="1.0"/>
<text transform="translate(95.26,257.50) scale(0.5,1)" font-size="8.4" text-anchor="middle" fill="#1a1a1a" stroke="#1a1a1a" stroke-width="0.35">6</text>
<rect x="99.42" y="194.41" width="2.08" height="50.59" fill="#cc0630"/>
<rect x="103.58" y="190.37" width="2.08" height="54.63" fill="#104b86"/>
<line x1="103.58" y1="245.50" x2="103.58" y2="248.60" stroke="#111" stroke-width="1.0"/>
<text transform="translate(103.58,257.50) scale(0.5,1)" font-size="8.4" text-anchor="middle" fill="#1a1a1a" stroke="#1a1a1a" stroke-width="0.35">7</text>
<rect x="107.74" y="185.79" width="2.08" height="59.21" fill="#cc0630"/>
<rect x="109.82" y="238.61" width="2.08" height="6.39" fill="#2ac046"/>
<rect x="111.90" y="185.79" width="2.08" height="59.21" fill="#104b86"/>
<line x1="111.90" y1="245.50" x2="111.90" y2="248.60" stroke="#111" stroke-width="1.0"/>
<text transform="translate(111.90,257.50) scale(0.5,1)" font-size="8.4" text-anchor="middle" fill="#1a1a1a" stroke="#1a1a1a" stroke-width="0.35">8</text>
<rect x="116.06" y="214.35" width="2.08" height="30.65" fill="#cc0630"/>
<rect x="120.22" y="214.35" width="2.08" height="30.65" fill="#104b86"/>
<line x1="120.22" y1="245.50" x2="120.22" y2="248.60" stroke="#111" stroke-width="1.0"/>
<text transform="translate(120.22,257.50) scale(0.5,1)" font-size="8.4" text-anchor="middle" fill="#1a1a1a" stroke="#1a1a1a" stroke-width="0.35">9</text>
<rect x="124.38" y="195.22" width="2.08" height="49.78" fill="#cc0630"/>
<rect x="128.54" y="195.22" width="2.08" height="49.78" fill="#104b86"/>
<line x1="128.54" y1="245.50" x2="128.54" y2="248.60" stroke="#111" stroke-width="1.0"/>
<text transform="translate(128.54,257.50) scale(0.5,1)" font-size="8.4" text-anchor="middle" fill="#1a1a1a" stroke="#1a1a1a" stroke-width="0.35">10</text>
<rect x="132.70" y="203.04" width="2.08" height="41.96" fill="#cc0630"/>
<rect x="136.86" y="203.04" width="2.08" height="41.96" fill="#104b86"/>
<line x1="136.86" y1="245.50" x2="136.86" y2="248.60" stroke="#111" stroke-width="1.0"/>
<text transform="translate(136.86,257.50) scale(0.5,1)" font-size="8.4" text-anchor="middle" fill="#1a1a1a" stroke="#1a1a1a" stroke-width="0.35">11</text>
<rect x="141.02" y="194.14" width="2.08" height="50.86" fill="#cc0630"/>
<rect x="143.10" y="236.99" width="2.08" height="8.01" fill="#2ac046"/>
<rect x="145.18" y="194.14" width="2.08" height="50.86" fill="#104b86"/>
<rect x="147.26" y="241.84" width="2.08" height="3.16" fill="#632a86"/>
<line x1="145.18" y1="245.50" x2="145.18" y2="248.60" stroke="#111" stroke-width="1.0"/>
<text transform="translate(145.18,257.50) scale(0.5,1)" font-size="8.4" text-anchor="middle" fill="#1a1a1a" stroke="#1a1a1a" stroke-width="0.35">12</text>
<rect x="149.34" y="194.41" width="2.08" height="50.59" fill="#cc0630"/>
<rect x="151.42" y="241.84" width="2.08" height="3.16" fill="#2ac046"/>
<rect x="153.50" y="191.18" width="2.08" height="53.82" fill="#104b86"/>
<line x1="153.50" y1="245.50" x2="153.50" y2="248.60" stroke="#111" stroke-width="1.0"/>
<text transform="translate(153.50,257.50) scale(0.5,1)" font-size="8.4" text-anchor="middle" fill="#1a1a1a" stroke="#1a1a1a" stroke-width="0.35">13</text>
<rect x="157.66" y="191.72" width="2.08" height="53.28" fill="#cc0630"/>
<rect x="161.82" y="191.72" width="2.08" height="53.28" fill="#104b86"/>
<line x1="161.82" y1="245.50" x2="161.82" y2="248.60" stroke="#111" stroke-width="1.0"/>
<text transform="translate(161.82,257.50) scale(0.5,1)" font-size="8.4" text-anchor="middle" fill="#1a1a1a" stroke="#1a1a1a" stroke-width="0.35">14</text>
<rect x="165.98" y="191.99" width="2.08" height="53.01" fill="#cc0630"/>
<rect x="170.14" y="191.99" width="2.08" height="53.01" fill="#104b86"/>
<line x1="170.14" y1="245.50" x2="170.14" y2="248.60" stroke="#111" stroke-width="1.0"/>
<text transform="translate(170.14,257.50) scale(0.5,1)" font-size="8.4" text-anchor="middle" fill="#1a1a1a" stroke="#1a1a1a" stroke-width="0.35">15</text>
<rect x="174.30" y="197.65" width="2.08" height="47.35" fill="#cc0630"/>
<rect x="176.38" y="239.96" width="2.08" height="5.04" fill="#2ac046"/>
<rect x="178.46" y="197.65" width="2.08" height="47.35" fill="#104b86"/>
<line x1="178.46" y1="245.50" x2="178.46" y2="248.60" stroke="#111" stroke-width="1.0"/>
<text transform="translate(178.46,257.50) scale(0.5,1)" font-size="8.4" text-anchor="middle" fill="#1a1a1a" stroke="#1a1a1a" stroke-width="0.35">16</text>
<rect x="182.62" y="201.15" width="2.08" height="43.85" fill="#cc0630"/>
<rect x="186.78" y="201.69" width="2.08" height="43.31" fill="#104b86"/>
<rect x="188.86" y="237.53" width="2.08" height="7.47" fill="#632a86"/>
<line x1="186.78" y1="245.50" x2="186.78" y2="248.60" stroke="#111" stroke-width="1.0"/>
<text transform="translate(186.78,257.50) scale(0.5,1)" font-size="8.4" text-anchor="middle" fill="#1a1a1a" stroke="#1a1a1a" stroke-width="0.35">17</text>
<rect x="190.94" y="211.93" width="2.08" height="33.07" fill="#cc0630"/>
<rect x="193.02" y="241.84" width="2.08" height="3.16" fill="#2ac046"/>
<rect x="195.10" y="207.89" width="2.08" height="37.11" fill="#104b86"/>
<rect x="197.18" y="242.65" width="2.08" height="2.35" fill="#632a86"/>
<line x1="195.10" y1="245.50" x2="195.10" y2="248.60" stroke="#111" stroke-width="1.0"/>
<text transform="translate(195.10,257.50) scale(0.5,1)" font-size="8.4" text-anchor="middle" fill="#1a1a1a" stroke="#1a1a1a" stroke-width="0.35">18</text>
<rect x="199.26" y="198.99" width="2.08" height="46.01" fill="#cc0630"/>
<rect x="203.42" y="196.03" width="2.08" height="48.97" fill="#104b86"/>
<line x1="203.42" y1="245.50" x2="203.42" y2="248.60" stroke="#111" stroke-width="1.0"/>
<text transform="translate(203.42,257.50) scale(0.5,1)" font-size="8.4" text-anchor="middle" fill="#1a1a1a" stroke="#1a1a1a" stroke-width="0.35">19</text>
<rect x="207.58" y="208.70" width="2.08" height="36.30" fill="#cc0630"/>
<rect x="209.66" y="239.96" width="2.08" height="5.04" fill="#2ac046"/>
<rect x="211.74" y="208.70" width="2.08" height="36.30" fill="#104b86"/>
<line x1="211.74" y1="245.50" x2="211.74" y2="248.60" stroke="#111" stroke-width="1.0"/>
<text transform="translate(211.74,257.50) scale(0.5,1)" font-size="8.4" text-anchor="middle" fill="#1a1a1a" stroke="#1a1a1a" stroke-width="0.35">20</text>
<rect x="215.90" y="191.45" width="2.08" height="53.55" fill="#cc0630"/>
<rect x="220.06" y="191.45" width="2.08" height="53.55" fill="#104b86"/>
<rect x="222.14" y="241.57" width="2.08" height="3.43" fill="#632a86"/>
<line x1="220.06" y1="245.50" x2="220.06" y2="248.60" stroke="#111" stroke-width="1.0"/>
<text transform="translate(220.06,257.50) scale(0.5,1)" font-size="8.4" text-anchor="middle" fill="#1a1a1a" stroke="#1a1a1a" stroke-width="0.35">21</text>
<rect x="224.22" y="203.57" width="2.08" height="41.43" fill="#cc0630"/>
<rect x="228.38" y="199.53" width="2.08" height="45.47" fill="#104b86"/>
<line x1="228.38" y1="245.50" x2="228.38" y2="248.60" stroke="#111" stroke-width="1.0"/>
<text transform="translate(228.38,257.50) scale(0.5,1)" font-size="8.4" text-anchor="middle" fill="#1a1a1a" stroke="#1a1a1a" stroke-width="0.35">22</text>
<rect x="232.54" y="215.97" width="2.08" height="29.03" fill="#cc0630"/>
<rect x="236.70" y="215.97" width="2.08" height="29.03" fill="#104b86"/>
<line x1="236.70" y1="245.50" x2="236.70" y2="248.60" stroke="#111" stroke-width="1.0"/>
<text transform="translate(236.70,257.50) scale(0.5,1)" font-size="8.4" text-anchor="middle" fill="#1a1a1a" stroke="#1a1a1a" stroke-width="0.35">23</text>
<rect x="240.86" y="195.22" width="2.08" height="49.78" fill="#cc0630"/>
<rect x="242.94" y="240.77" width="2.08" height="4.23" fill="#2ac046"/>
<rect x="245.02" y="195.22" width="2.08" height="49.78" fill="#104b86"/>
<line x1="245.02" y1="245.50" x2="245.02" y2="248.60" stroke="#111" stroke-width="1.0"/>
<text transform="translate(245.02,257.50) scale(0.5,1)" font-size="8.4" text-anchor="middle" fill="#1a1a1a" stroke="#1a1a1a" stroke-width="0.35">24</text>
<rect x="249.18" y="186.06" width="2.08" height="58.94" fill="#cc0630"/>
<rect x="251.26" y="241.57" width="2.08" height="3.43" fill="#2ac046"/>
<rect x="253.34" y="186.06" width="2.08" height="58.94" fill="#104b86"/>
<line x1="253.34" y1="245.50" x2="253.34" y2="248.60" stroke="#111" stroke-width="1.0"/>
<text transform="translate(253.34,257.50) scale(0.5,1)" font-size="8.4" text-anchor="middle" fill="#1a1a1a" stroke="#1a1a1a" stroke-width="0.35">25</text>
<rect x="257.50" y="204.92" width="2.08" height="40.08" fill="#cc0630"/>
<rect x="259.58" y="238.61" width="2.08" height="6.39" fill="#2ac046"/>
<rect x="261.66" y="204.92" width="2.08" height="40.08" fill="#104b86"/>
<rect x="263.74" y="239.96" width="2.08" height="5.04" fill="#632a86"/>
<line x1="261.66" y1="245.50" x2="261.66" y2="248.60" stroke="#111" stroke-width="1.0"/>
<text transform="translate(261.66,257.50) scale(0.5,1)" font-size="8.4" text-anchor="middle" fill="#1a1a1a" stroke="#1a1a1a" stroke-width="0.35">26</text>
<rect x="265.82" y="205.73" width="2.08" height="39.27" fill="#cc0630"/>
<rect x="267.90" y="242.92" width="2.08" height="2.08" fill="#2ac046"/>
<rect x="269.98" y="199.80" width="2.08" height="45.20" fill="#104b86"/>
<rect x="272.06" y="242.92" width="2.08" height="2.08" fill="#632a86"/>
<line x1="269.98" y1="245.50" x2="269.98" y2="248.60" stroke="#111" stroke-width="1.0"/>
<text transform="translate(269.98,257.50) scale(0.5,1)" font-size="8.4" text-anchor="middle" fill="#1a1a1a" stroke="#1a1a1a" stroke-width="0.35">27</text>
<rect x="274.14" y="198.45" width="2.08" height="46.55" fill="#cc0630"/>
<rect x="278.30" y="195.22" width="2.08" height="49.78" fill="#104b86"/>
<rect x="280.38" y="242.92" width="2.08" height="2.08" fill="#632a86"/>
<line x1="278.30" y1="245.50" x2="278.30" y2="248.60" stroke="#111" stroke-width="1.0"/>
<text transform="translate(278.30,257.50) scale(0.5,1)" font-size="8.4" text-anchor="middle" fill="#1a1a1a" stroke="#1a1a1a" stroke-width="0.35">28</text>
<rect x="282.46" y="198.45" width="2.08" height="46.55" fill="#cc0630"/>
<rect x="286.62" y="196.03" width="2.08" height="48.97" fill="#104b86"/>
<line x1="286.62" y1="245.50" x2="286.62" y2="248.60" stroke="#111" stroke-width="1.0"/>
<text transform="translate(286.62,257.50) scale(0.5,1)" font-size="8.4" text-anchor="middle" fill="#1a1a1a" stroke="#1a1a1a" stroke-width="0.35">29</text>
<text transform="translate(170.30,270.20) scale(0.66,1)" font-size="9.4" text-anchor="middle" fill="#1a1a1a" stroke="#1a1a1a" stroke-width="0.4">Exon</text>
<rect x="51.20" y="276.30" width="4.70" height="4.60" fill="#632a86"/>
<text x="59.30" y="280.90" font-size="7" text-anchor="start" fill="#222" textLength="104.40" lengthAdjust="spacingAndGlyphs">% 1st position sSNVs/exon length</text>
<rect x="51.20" y="286.50" width="4.70" height="4.60" fill="#2ac046"/>
<text x="59.30" y="291.00" font-size="7" text-anchor="start" fill="#222" textLength="83.90" lengthAdjust="spacingAndGlyphs">% USS sSNVs/exon length</text>
<rect x="176.70" y="276.30" width="4.70" height="4.60" fill="#cc0630"/>
<text x="185.30" y="280.90" font-size="7" text-anchor="start" fill="#222" textLength="105.70" lengthAdjust="spacingAndGlyphs">% 3rd position sSNVs/exon length</text>
<rect x="176.70" y="286.20" width="4.70" height="4.60" fill="#104b86"/>
<text x="185.30" y="290.90" font-size="7" text-anchor="start" fill="#222" textLength="74.50" lengthAdjust="spacingAndGlyphs">% of sSNVs/exon length</text>
<text x="298.40" y="172.70" font-size="11" text-anchor="start" fill="#111" font-weight="bold">C</text>
<rect x="342.00" y="175.50" width="142.00" height="88.00" fill="#d9d9d9"/>
<rect x="342.00" y="175.50" width="4.95" height="7.38" fill="#f04a4a" shape-rendering="crispEdges"/>
<rect x="346.90" y="175.50" width="4.95" height="7.38" fill="#e7b4b4" shape-rendering="crispEdges"/>
<rect x="351.79" y="175.50" width="4.95" height="7.38" fill="#eb7373" shape-rendering="crispEdges"/>
<rect x="356.69" y="175.50" width="4.95" height="7.38" fill="#e7afaf" shape-rendering="crispEdges"/>
<rect x="361.59" y="175.50" width="4.95" height="7.38" fill="#f04a4a" shape-rendering="crispEdges"/>
<rect x="366.48" y="175.50" width="4.95" height="7.38" fill="#f04a4a" shape-rendering="crispEdges"/>
<rect x="371.38" y="175.50" width="4.95" height="7.38" fill="#f33333" shape-rendering="crispEdges"/>
<rect x="376.28" y="175.50" width="4.95" height="7.38" fill="#f33333" shape-rendering="crispEdges"/>
<rect x="381.17" y="175.50" width="4.95" height="7.38" fill="#e99b9b" shape-rendering="crispEdges"/>
<rect x="386.07" y="175.50" width="4.95" height="7.38" fill="#eb7979" shape-rendering="crispEdges"/>
<rect x="390.97" y="175.50" width="4.95" height="7.38" fill="#e7b4b4" shape-rendering="crispEdges"/>
<rect x="395.86" y="175.50" width="4.95" height="7.38" fill="#f14444" shape-rendering="crispEdges"/>
<rect x="400.76" y="175.50" width="4.95" height="7.38" fill="#ed6363" shape-rendering="crispEdges"/>
<rect x="405.66" y="175.50" width="4.95" height="7.38" fill="#e7b4b4" shape-rendering="crispEdges"/>
<rect x="410.55" y="175.50" width="4.95" height="7.38" fill="#ea8686" shape-rendering="crispEdges"/>
<rect x="415.45" y="175.50" width="4.95" height="7.38" fill="#fa1616" shape-rendering="crispEdges"/>
<rect x="420.34" y="175.50" width="4.95" height="7.38" fill="#ea8686" shape-rendering="crispEdges"/>
<rect x="425.24" y="175.50" width="4.95" height="7.38" fill="#ef5353" shape-rendering="crispEdges"/>
<rect x="430.14" y="175.50" width="4.95" height="7.38" fill="#ea8686" shape-rendering="crispEdges"/>
<rect x="435.03" y="175.50" width="4.95" height="7.38" fill="#eb7676" shape-rendering="crispEdges"/>
<rect x="439.93" y="175.50" width="4.95" height="7.38" fill="#eb7676" shape-rendering="crispEdges"/>
<rect x="444.83" y="175.50" width="4.95" height="7.38" fill="#e99696" shape-rendering="crispEdges"/>
<rect x="449.72" y="175.50" width="4.95" height="7.38" fill="#e99696" shape-rendering="crispEdges"/>
<rect x="454.62" y="175.50" width="4.95" height="7.38" fill="#f14444" shape-rendering="crispEdges"/>
<rect x="459.52" y="175.50" width="4.95" height="7.38" fill="#f62626" shape-rendering="crispEdges"/>
<rect x="464.41" y="175.50" width="4.95" height="7.38" fill="#eb7979" shape-rendering="crispEdges"/>
<rect x="469.31" y="175.50" width="4.95" height="7.38" fill="#eb7979" shape-rendering="crispEdges"/>
<rect x="474.21" y="175.50" width="4.95" height="7.38" fill="#ef5353" shape-rendering="crispEdges"/>
<rect x="479.10" y="175.50" width="4.95" height="7.38" fill="#e99696" shape-rendering="crispEdges"/>
<rect x="351.79" y="182.83" width="4.95" height="7.38" fill="#e2c6c6" shape-rendering="crispEdges"/>
<rect x="356.69" y="182.83" width="4.95" height="7.38" fill="#e99b9b" shape-rendering="crispEdges"/>
<rect x="361.59" y="182.83" width="4.95" height="7.38" fill="#e7b4b4" shape-rendering="crispEdges"/>
<rect x="366.48" y="182.83" width="4.95" height="7.38" fill="#e2c6c6" shape-rendering="crispEdges"/>
<rect x="376.28" y="182.83" width="4.95" height="7.38" fill="#ea8e8e" shape-rendering="crispEdges"/>
<rect x="381.17" y="182.83" width="4.95" height="7.38" fill="#e7b4b4" shape-rendering="crispEdges"/>
<rect x="386.07" y="182.83" width="4.95" height="7.38" fill="#e99b9b" shape-rendering="crispEdges"/>
<rect x="395.86" y="182.83" width="4.95" height="7.38" fill="#e8a8a8" shape-rendering="crispEdges"/>
<rect x="400.76" y="182.83" width="4.95" height="7.38" fill="#e8a8a8" shape-rendering="crispEdges"/>
<rect x="405.66" y="182.83" width="4.95" height="7.38" fill="#e8a8a8" shape-rendering="crispEdges"/>
<rect x="410.55" y="182.83" width="4.95" height="7.38" fill="#e7b4b4" shape-rendering="crispEdges"/>
<rect x="415.45" y="182.83" width="4.95" height="7.38" fill="#e8a8a8" shape-rendering="crispEdges"/>
<rect x="420.34" y="182.83" width="4.95" height="7.38" fill="#e99b9b" shape-rendering="crispEdges"/>
<rect x="430.14" y="182.83" width="4.95" height="7.38" fill="#e99b9b" shape-rendering="crispEdges"/>
<rect x="435.03" y="182.83" width="4.95" height="7.38" fill="#dfcece" shape-rendering="crispEdges"/>
<rect x="439.93" y="182.83" width="4.95" height="7.38" fill="#ea8181" shape-rendering="crispEdges"/>
<rect x="444.83" y="182.83" width="4.95" height="7.38" fill="#e99b9b" shape-rendering="crispEdges"/>
<rect x="449.72" y="182.83" width="4.95" height="7.38" fill="#e7b4b4" shape-rendering="crispEdges"/>
<rect x="454.62" y="182.83" width="4.95" height="7.38" fill="#ed6363" shape-rendering="crispEdges"/>
<rect x="459.52" y="182.83" width="4.95" height="7.38" fill="#ff0505" shape-rendering="crispEdges"/>
<rect x="464.41" y="182.83" width="4.95" height="7.38" fill="#e99b9b" shape-rendering="crispEdges"/>
<rect x="469.31" y="182.83" width="4.95" height="7.38" fill="#ea8181" shape-rendering="crispEdges"/>
<rect x="474.21" y="182.83" width="4.95" height="7.38" fill="#e8a8a8" shape-rendering="crispEdges"/>
<rect x="479.10" y="182.83" width="4.95" height="7.38" fill="#f33636" shape-rendering="crispEdges"/>
<rect x="351.79" y="190.17" width="4.95" height="7.38" fill="#e99b9b" shape-rendering="crispEdges"/>
<rect x="361.59" y="190.17" width="4.95" height="7.38" fill="#e7b4b4" shape-rendering="crispEdges"/>
<rect x="376.28" y="190.17" width="4.95" height="7.38" fill="#e2c6c6" shape-rendering="crispEdges"/>
<rect x="381.17" y="190.17" width="4.95" height="7.38" fill="#e2c6c6" shape-rendering="crispEdges"/>
<rect x="386.07" y="190.17" width="4.95" height="7.38" fill="#e2c6c6" shape-rendering="crispEdges"/>
<rect x="395.86" y="190.17" width="4.95" height="7.38" fill="#e2c6c6" shape-rendering="crispEdges"/>
<rect x="400.76" y="190.17" width="4.95" height="7.38" fill="#ded0d0" shape-rendering="crispEdges"/>
<rect x="405.66" y="190.17" width="4.95" height="7.38" fill="#e2c6c6" shape-rendering="crispEdges"/>
<rect x="415.45" y="190.17" width="4.95" height="7.38" fill="#e2c6c6" shape-rendering="crispEdges"/>
<rect x="420.34" y="190.17" width="4.95" height="7.38" fill="#e2c6c6" shape-rendering="crispEdges"/>
<rect x="430.14" y="190.17" width="4.95" height="7.38" fill="#e2c6c6" shape-rendering="crispEdges"/>
<rect x="435.03" y="190.17" width="4.95" height="7.38" fill="#e7b4b4" shape-rendering="crispEdges"/>
<rect x="444.83" y="190.17" width="4.95" height="7.38" fill="#e7b4b4" shape-rendering="crispEdges"/>
<rect x="449.72" y="190.17" width="4.95" height="7.38" fill="#e7b4b4" shape-rendering="crispEdges"/>
<rect x="454.62" y="190.17" width="4.95" height="7.38" fill="#e2c6c6" shape-rendering="crispEdges"/>
<rect x="459.52" y="190.17" width="4.95" height="7.38" fill="#e7b4b4" shape-rendering="crispEdges"/>
<rect x="464.41" y="190.17" width="4.95" height="7.38" fill="#e5bdbd" shape-rendering="crispEdges"/>
<rect x="474.21" y="190.17" width="4.95" height="7.38" fill="#e7b4b4" shape-rendering="crispEdges"/>
<rect x="342.00" y="197.50" width="4.95" height="7.38" fill="#e7b4b4" shape-rendering="crispEdges"/>
<rect x="346.90" y="197.50" width="4.95" height="7.38" fill="#e5bdbd" shape-rendering="crispEdges"/>
<rect x="371.38" y="197.50" width="4.95" height="7.38" fill="#e2c6c6" shape-rendering="crispEdges"/>
<rect x="390.97" y="197.50" width="4.95" height="7.38" fill="#e2c6c6" shape-rendering="crispEdges"/>
<rect x="400.76" y="197.50" width="4.95" height="7.38" fill="#e2c6c6" shape-rendering="crispEdges"/>
<rect x="405.66" y="197.50" width="4.95" height="7.38" fill="#e7b4b4" shape-rendering="crispEdges"/>
<rect x="410.55" y="197.50" width="4.95" height="7.38" fill="#e2c6c6" shape-rendering="crispEdges"/>
<rect x="425.24" y="197.50" width="4.95" height="7.38" fill="#e2c6c6" shape-rendering="crispEdges"/>
<rect x="430.14" y="197.50" width="4.95" height="7.38" fill="#e2c6c6" shape-rendering="crispEdges"/>
<rect x="435.03" y="197.50" width="4.95" height="7.38" fill="#e5bdbd" shape-rendering="crispEdges"/>
<rect x="439.93" y="197.50" width="4.95" height="7.38" fill="#e2c6c6" shape-rendering="crispEdges"/>
<rect x="459.52" y="197.50" width="4.95" height="7.38" fill="#e7b4b4" shape-rendering="crispEdges"/>
<rect x="479.10" y="197.50" width="4.95" height="7.38" fill="#e8a8a8" shape-rendering="crispEdges"/>
<rect x="366.48" y="204.83" width="4.95" height="7.38" fill="#e7b4b4" shape-rendering="crispEdges"/>
<rect x="371.38" y="204.83" width="4.95" height="7.38" fill="#e2c6c6" shape-rendering="crispEdges"/>
<rect x="376.28" y="204.83" width="4.95" height="7.38" fill="#e7b4b4" shape-rendering="crispEdges"/>
<rect x="390.97" y="204.83" width="4.95" height="7.38" fill="#e2c6c6" shape-rendering="crispEdges"/>
<rect x="405.66" y="204.83" width="4.95" height="7.38" fill="#e7b4b4" shape-rendering="crispEdges"/>
<rect x="410.55" y="204.83" width="4.95" height="7.38" fill="#e2c6c6" shape-rendering="crispEdges"/>
<rect x="415.45" y="204.83" width="4.95" height="7.38" fill="#e2c6c6" shape-rendering="crispEdges"/>
<rect x="430.14" y="204.83" width="4.95" height="7.38" fill="#e8a8a8" shape-rendering="crispEdges"/>
<rect x="459.52" y="204.83" width="4.95" height="7.38" fill="#e7b4b4" shape-rendering="crispEdges"/>
<rect x="474.21" y="204.83" width="4.95" height="7.38" fill="#e2c6c6" shape-rendering="crispEdges"/>
<rect x="346.90" y="212.17" width="4.95" height="7.38" fill="#e5bdbd" shape-rendering="crispEdges"/>
<rect x="361.59" y="212.17" width="4.95" height="7.38" fill="#e5bdbd" shape-rendering="crispEdges"/>
<rect x="371.38" y="212.17" width="4.95" height="7.38" fill="#e2c6c6" shape-rendering="crispEdges"/>
<rect x="386.07" y="212.17" width="4.95" height="7.38" fill="#e2c6c6" shape-rendering="crispEdges"/>
<rect x="400.76" y="212.17" width="4.95" height="7.38" fill="#e2c6c6" shape-rendering="crispEdges"/>
<rect x="415.45" y="212.17" width="4.95" height="7.38" fill="#e2c6c6" shape-rendering="crispEdges"/>
<rect x="420.34" y="212.17" width="4.95" height="7.38" fill="#e2c6c6" shape-rendering="crispEdges"/>
<rect x="444.83" y="212.17" width="4.95" height="7.38" fill="#e2c6c6" shape-rendering="crispEdges"/>
<rect x="459.52" y="212.17" width="4.95" height="7.38" fill="#e2c6c6" shape-rendering="crispEdges"/>
<rect x="469.31" y="212.17" width="4.95" height="7.38" fill="#e2c6c6" shape-rendering="crispEdges"/>
<rect x="474.21" y="212.17" width="4.95" height="7.38" fill="#e5bdbd" shape-rendering="crispEdges"/>
<rect x="479.10" y="212.17" width="4.95" height="7.38" fill="#e5bdbd" shape-rendering="crispEdges"/>
<rect x="366.48" y="219.50" width="4.95" height="7.38" fill="#e2c6c6" shape-rendering="crispEdges"/>
<rect x="371.38" y="219.50" width="4.95" height="7.38" fill="#e5bdbd" shape-rendering="crispEdges"/>
<rect x="376.28" y="219.50" width="4.95" height="7.38" fill="#e2c6c6" shape-rendering="crispEdges"/>
<rect x="400.76" y="219.50" width="4.95" height="7.38" fill="#e2c6c6" shape-rendering="crispEdges"/>
<rect x="420.34" y="219.50" width="4.95" height="7.38" fill="#e2c6c6" shape-rendering="crispEdges"/>
<rect x="430.14" y="219.50" width="4.95" height="7.38" fill="#e5bdbd" shape-rendering="crispEdges"/>
<rect x="454.62" y="219.50" width="4.95" height="7.38" fill="#e2c6c6" shape-rendering="crispEdges"/>
<rect x="479.10" y="219.50" width="4.95" height="7.38" fill="#e2c6c6" shape-rendering="crispEdges"/>
<rect x="400.76" y="226.83" width="4.95" height="7.38" fill="#e5bdbd" shape-rendering="crispEdges"/>
<rect x="405.66" y="226.83" width="4.95" height="7.38" fill="#e2c6c6" shape-rendering="crispEdges"/>
<rect x="425.24" y="226.83" width="4.95" height="7.38" fill="#e2c6c6" shape-rendering="crispEdges"/>
<rect x="449.72" y="226.83" width="4.95" height="7.38" fill="#e2c6c6" shape-rendering="crispEdges"/>
<rect x="459.52" y="226.83" width="4.95" height="7.38" fill="#e2c6c6" shape-rendering="crispEdges"/>
<rect x="464.41" y="226.83" width="4.95" height="7.38" fill="#e2c6c6" shape-rendering="crispEdges"/>
<rect x="469.31" y="226.83" width="4.95" height="7.38" fill="#e5bdbd" shape-rendering="crispEdges"/>
<rect x="342.00" y="234.17" width="4.95" height="7.38" fill="#e2c6c6" shape-rendering="crispEdges"/>
<rect x="366.48" y="234.17" width="4.95" height="7.38" fill="#e2c6c6" shape-rendering="crispEdges"/>
<rect x="376.28" y="234.17" width="4.95" height="7.38" fill="#e2c6c6" shape-rendering="crispEdges"/>
<rect x="405.66" y="234.17" width="4.95" height="7.38" fill="#e2c6c6" shape-rendering="crispEdges"/>
<rect x="386.07" y="241.50" width="4.95" height="7.38" fill="#e2c6c6" shape-rendering="crispEdges"/>
<rect x="430.14" y="241.50" width="4.95" height="7.38" fill="#e2c6c6" shape-rendering="crispEdges"/>
<rect x="469.31" y="241.50" width="4.95" height="7.38" fill="#e2c6c6" shape-rendering="crispEdges"/>
<rect x="435.03" y="248.83" width="4.95" height="7.38" fill="#e2c6c6" shape-rendering="crispEdges"/>
<rect x="459.52" y="248.83" width="4.95" height="7.38" fill="#e7b4b4" shape-rendering="crispEdges"/>
<rect x="386.07" y="256.17" width="4.95" height="7.38" fill="#e2c6c6" shape-rendering="crispEdges"/>
<rect x="342.0" y="175.5" width="142.0" height="88.0" fill="none" stroke="#1a1a1a" stroke-width="1.1"/>
<line x1="338.60" y1="179.50" x2="342.00" y2="179.50" stroke="#111" stroke-width="1.0"/>
<text transform="translate(336.00,182.20) scale(0.78,1)" font-size="7.1" text-anchor="end" fill="#1a1a1a" stroke="#1a1a1a" stroke-width="0.4">C&gt;T (45.0)</text>
<line x1="338.60" y1="186.90" x2="342.00" y2="186.90" stroke="#111" stroke-width="1.0"/>
<text transform="translate(336.00,189.60) scale(0.78,1)" font-size="7.1" text-anchor="end" fill="#1a1a1a" stroke="#1a1a1a" stroke-width="0.4">G&gt;A (25.3)</text>
<line x1="338.60" y1="194.30" x2="342.00" y2="194.30" stroke="#111" stroke-width="1.0"/>
<text transform="translate(336.00,197.00) scale(0.78,1)" font-size="7.1" text-anchor="end" fill="#1a1a1a" stroke="#1a1a1a" stroke-width="0.4">T&gt;C (7.4)</text>
<line x1="338.60" y1="201.70" x2="342.00" y2="201.70" stroke="#111" stroke-width="1.0"/>
<text transform="translate(336.00,204.40) scale(0.78,1)" font-size="7.1" text-anchor="end" fill="#1a1a1a" stroke="#1a1a1a" stroke-width="0.4">A&gt;G (5.1)</text>
<line x1="338.60" y1="209.10" x2="342.00" y2="209.10" stroke="#111" stroke-width="1.0"/>
<text transform="translate(336.00,211.80) scale(0.78,1)" font-size="7.1" text-anchor="end" fill="#1a1a1a" stroke="#1a1a1a" stroke-width="0.4">G&gt;T (4.8)</text>
<line x1="338.60" y1="216.50" x2="342.00" y2="216.50" stroke="#111" stroke-width="1.0"/>
<text transform="translate(336.00,219.20) scale(0.78,1)" font-size="7.1" text-anchor="end" fill="#1a1a1a" stroke="#1a1a1a" stroke-width="0.4">C&gt;A (4.3)</text>
<line x1="338.60" y1="223.90" x2="342.00" y2="223.90" stroke="#111" stroke-width="1.0"/>
<text transform="translate(336.00,226.60) scale(0.78,1)" font-size="7.1" text-anchor="end" fill="#1a1a1a" stroke="#1a1a1a" stroke-width="0.4">C&gt;G (2.7)</text>
<line x1="338.60" y1="231.30" x2="342.00" y2="231.30" stroke="#111" stroke-width="1.0"/>
<text transform="translate(336.00,234.00) scale(0.78,1)" font-size="7.1" text-anchor="end" fill="#1a1a1a" stroke="#1a1a1a" stroke-width="0.4">G&gt;C (2.4)</text>
<line x1="338.60" y1="238.70" x2="342.00" y2="238.70" stroke="#111" stroke-width="1.0"/>
<text transform="translate(336.00,241.40) scale(0.78,1)" font-size="7.1" text-anchor="end" fill="#1a1a1a" stroke="#1a1a1a" stroke-width="0.4">T&gt;G (1.1)</text>
<line x1="338.60" y1="246.10" x2="342.00" y2="246.10" stroke="#111" stroke-width="1.0"/>
<text transform="translate(336.00,248.80) scale(0.78,1)" font-size="7.1" text-anchor="end" fill="#1a1a1a" stroke="#1a1a1a" stroke-width="0.4">A&gt;C (0.8)</text>
<line x1="338.60" y1="253.50" x2="342.00" y2="253.50" stroke="#111" stroke-width="1.0"/>
<text transform="translate(336.00,256.20) scale(0.78,1)" font-size="7.1" text-anchor="end" fill="#1a1a1a" stroke="#1a1a1a" stroke-width="0.4">T&gt;A (0.8)</text>
<line x1="338.60" y1="260.90" x2="342.00" y2="260.90" stroke="#111" stroke-width="1.0"/>
<text transform="translate(336.00,263.60) scale(0.78,1)" font-size="7.1" text-anchor="end" fill="#1a1a1a" stroke="#1a1a1a" stroke-width="0.4">A&gt;T (0.3)</text>
<line x1="344.45" y1="263.50" x2="344.45" y2="266.30" stroke="#111" stroke-width="1.0"/>
<text transform="translate(344.45,275.80) scale(0.78,1)" font-size="7.5" text-anchor="middle" fill="#1a1a1a" stroke="#1a1a1a" stroke-width="0.4">1</text>
<line x1="354.24" y1="263.50" x2="354.24" y2="266.30" stroke="#111" stroke-width="1.0"/>
<text transform="translate(354.24,275.80) scale(0.78,1)" font-size="7.5" text-anchor="middle" fill="#1a1a1a" stroke="#1a1a1a" stroke-width="0.4">3</text>
<line x1="364.03" y1="263.50" x2="364.03" y2="266.30" stroke="#111" stroke-width="1.0"/>
<text transform="translate(364.03,275.80) scale(0.78,1)" font-size="7.5" text-anchor="middle" fill="#1a1a1a" stroke="#1a1a1a" stroke-width="0.4">5</text>
<line x1="373.83" y1="263.50" x2="373.83" y2="266.30" stroke="#111" stroke-width="1.0"/>
<text transform="translate(373.83,275.80) scale(0.78,1)" font-size="7.5" text-anchor="middle" fill="#1a1a1a" stroke="#1a1a1a" stroke-width="0.4">7</text>
<line x1="383.62" y1="263.50" x2="383.62" y2="266.30" stroke="#111" stroke-width="1.0"/>
<text transform="translate(383.62,275.80) scale(0.78,1)" font-size="7.5" text-anchor="middle" fill="#1a1a1a" stroke="#1a1a1a" stroke-width="0.4">9</text>
<line x1="393.41" y1="263.50" x2="393.41" y2="266.30" stroke="#111" stroke-width="1.0"/>
<text transform="translate(393.41,275.80) scale(0.78,1)" font-size="7.5" text-anchor="middle" fill="#1a1a1a" stroke="#1a1a1a" stroke-width="0.4">11</text>
<line x1="403.21" y1="263.50" x2="403.21" y2="266.30" stroke="#111" stroke-width="1.0"/>
<text transform="translate(403.21,275.80) scale(0.78,1)" font-size="7.5" text-anchor="middle" fill="#1a1a1a" stroke="#1a1a1a" stroke-width="0.4">13</text>
<line x1="413.00" y1="263.50" x2="413.00" y2="266.30" stroke="#111" stroke-width="1.0"/>
<text transform="translate(413.00,275.80) scale(0.78,1)" font-size="7.5" text-anchor="middle" fill="#1a1a1a" stroke="#1a1a1a" stroke-width="0.4">15</text>
<line x1="422.79" y1="263.50" x2="422.79" y2="266.30" stroke="#111" stroke-width="1.0"/>
<text transform="translate(422.79,275.80) scale(0.78,1)" font-size="7.5" text-anchor="middle" fill="#1a1a1a" stroke="#1a1a1a" stroke-width="0.4">17</text>
<line x1="432.59" y1="263.50" x2="432.59" y2="266.30" stroke="#111" stroke-width="1.0"/>
<text transform="translate(432.59,275.80) scale(0.78,1)" font-size="7.5" text-anchor="middle" fill="#1a1a1a" stroke="#1a1a1a" stroke-width="0.4">19</text>
<line x1="442.38" y1="263.50" x2="442.38" y2="266.30" stroke="#111" stroke-width="1.0"/>
<text transform="translate(442.38,275.80) scale(0.78,1)" font-size="7.5" text-anchor="middle" fill="#1a1a1a" stroke="#1a1a1a" stroke-width="0.4">21</text>
<line x1="452.17" y1="263.50" x2="452.17" y2="266.30" stroke="#111" stroke-width="1.0"/>
<text transform="translate(452.17,275.80) scale(0.78,1)" font-size="7.5" text-anchor="middle" fill="#1a1a1a" stroke="#1a1a1a" stroke-width="0.4">23</text>
<line x1="461.97" y1="263.50" x2="461.97" y2="266.30" stroke="#111" stroke-width="1.0"/>
<text transform="translate(461.97,275.80) scale(0.78,1)" font-size="7.5" text-anchor="middle" fill="#1a1a1a" stroke="#1a1a1a" stroke-width="0.4">25</text>
<line x1="471.76" y1="263.50" x2="471.76" y2="266.30" stroke="#111" stroke-width="1.0"/>
<text transform="translate(471.76,275.80) scale(0.78,1)" font-size="7.5" text-anchor="middle" fill="#1a1a1a" stroke="#1a1a1a" stroke-width="0.4">27</text>
<line x1="481.55" y1="263.50" x2="481.55" y2="266.30" stroke="#111" stroke-width="1.0"/>
<text transform="translate(481.55,275.80) scale(0.78,1)" font-size="7.5" text-anchor="middle" fill="#1a1a1a" stroke="#1a1a1a" stroke-width="0.4">29</text>
<text transform="translate(413.20,288.60) scale(0.66,1)" font-size="9.4" text-anchor="middle" fill="#1a1a1a" stroke="#1a1a1a" stroke-width="0.4">Exon</text>
<defs><linearGradient id="cb" x1="0" y1="1" x2="0" y2="0"><stop offset="0" stop-color="#d9d9d9"/><stop offset="0.3" stop-color="#e6a9a9"/><stop offset="0.6" stop-color="#ee6a6a"/><stop offset="1" stop-color="#ff0000"/></linearGradient></defs>
<rect x="494.40" y="175.40" width="10.10" height="88.90" fill="url(#cb)"/>
<text transform="translate(507.30,266.60) scale(0.75,1)" font-size="7.5" text-anchor="start" fill="#1a1a1a" stroke="#1a1a1a" stroke-width="0.4">0</text>
<text transform="translate(507.30,253.12) scale(0.75,1)" font-size="7.5" text-anchor="start" fill="#1a1a1a" stroke="#1a1a1a" stroke-width="0.4">2</text>
<text transform="translate(507.30,239.64) scale(0.75,1)" font-size="7.5" text-anchor="start" fill="#1a1a1a" stroke="#1a1a1a" stroke-width="0.4">4</text>
<text transform="translate(507.30,226.16) scale(0.75,1)" font-size="7.5" text-anchor="start" fill="#1a1a1a" stroke="#1a1a1a" stroke-width="0.4">6</text>
<text transform="translate(507.30,212.68) scale(0.75,1)" font-size="7.5" text-anchor="start" fill="#1a1a1a" stroke="#1a1a1a" stroke-width="0.4">8</text>
<text transform="translate(507.30,199.20) scale(0.75,1)" font-size="7.5" text-anchor="start" fill="#1a1a1a" stroke="#1a1a1a" stroke-width="0.4">10</text>
<text transform="translate(507.30,185.72) scale(0.75,1)" font-size="7.5" text-anchor="start" fill="#1a1a1a" stroke="#1a1a1a" stroke-width="0.4">12</text>
<rect x="0" y="0" width="520" height="1.05" fill="#000"/>
<rect x="0" y="0" width="1.05" height="298" fill="#000"/>
<rect x="518.5" y="0" width="1.5" height="298" fill="#000"/>
<rect x="0" y="296.3" width="520" height="1.7" fill="#000"/>
</svg>
</body></html>
